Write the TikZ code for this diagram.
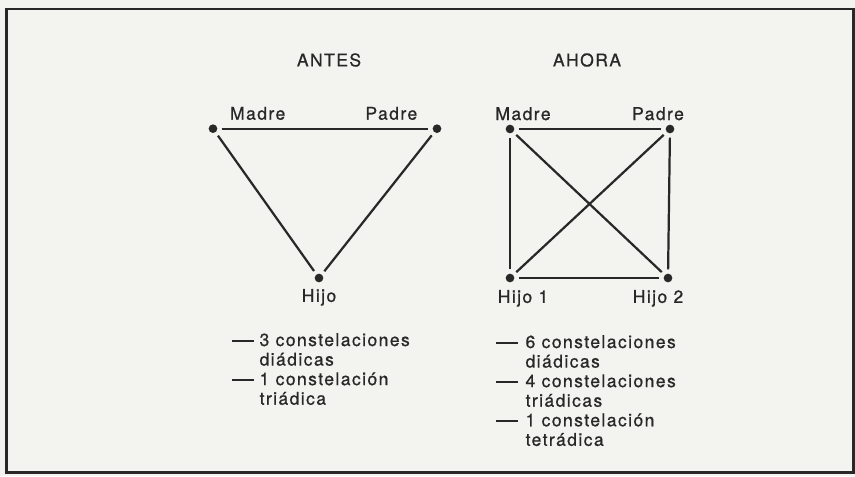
\documentclass[tikz,border=0pt]{standalone}
\usepackage{fontspec}
\setmainfont{TeX Gyre Heros}[LetterSpace=8,FakeBold=0.7]
\usetikzlibrary{positioning}
\definecolor{tinta}{RGB}{40,40,40}
\definecolor{papel}{RGB}{243,243,239}
\newcommand{\guion}{\rule[0.13cm]{0.66cm}{0.05cm}}

\begin{document}
\begin{tikzpicture}[
    every node/.style={text=tinta,font=\fontsize{15}{16.7}\selectfont},
    punto/.style={circle,fill=tinta,inner sep=0pt,minimum size=0.26cm},
    enlace/.style={draw=tinta,line width=1.9pt,shorten >=0.12cm,shorten <=0.12cm},
    lista/.style={inner sep=0pt,anchor=base west}]
    \fill[papel] (0,0) rectangle (25.65,-14.28);
    \draw[tinta,line width=2.4pt] (0.2,-0.27) rectangle (25.6,-14.17);

    % Antes
    \node (antes) at (9.87,-1.8) {ANTES};
    \node[punto,label={[xshift=1.34cm]above:Madre}] (madreA) at (6.39,-3.86) {};
    \node[punto,label={[xshift=-1.37cm]above:Padre}] (padreA) at (13.11,-3.86) {};
    \node[punto,label={[label distance=0.07cm]below:Hijo}] (hijoA) at (9.57,-8.34) {};

    \path[enlace]
        (madreA) edge (padreA)
        (padreA) edge (hijoA)
        (hijoA) edge (madreA);

    \node[lista] (listaA) at (6.96,-10.38) {\begin{tabular}[t]{@{}l@{\hspace{0.16cm}}l@{}}
        \guion & 3 constelaciones\\
               & diádicas\\
        \guion & 1 constelación\\
               & triádica
    \end{tabular}};

    % Ahora
    \node (ahora) at (17.61,-1.8) {AHORA};
    \node[punto,label={[xshift=0.39cm]above:Madre}] (madreB) at (15.3,-3.87) {};
    \node[punto,label={[xshift=-0.36cm]above:Padre}] (padreB) at (20.1,-3.87) {};
    \node[punto,label={[xshift=0.39cm,label distance=0.1cm]below:Hijo 1}] (hijo1) at (15.3,-8.34) {};
    \node[punto,label={[xshift=-0.3cm,label distance=0.1cm]below:Hijo 2}] (hijo2) at (20.04,-8.34) {};

    \path[enlace]
        (madreB) edge (padreB)
        (padreB) edge (hijo2)
        (hijo2) edge (hijo1)
        (hijo1) edge (madreB)
        (madreB) edge (hijo2)
        (padreB) edge (hijo1);

    \node[lista] (listaB) at (14.88,-10.44) {\begin{tabular}[t]{@{}l@{\hspace{0.22cm}}l@{}}
        \guion & 6 constelaciones\\
               & diádicas\\
        \guion & 4 constelaciones\\
               & triádicas\\
        \guion & 1 constelación\\
               & tetrádica
    \end{tabular}};
\end{tikzpicture}
\end{document}
